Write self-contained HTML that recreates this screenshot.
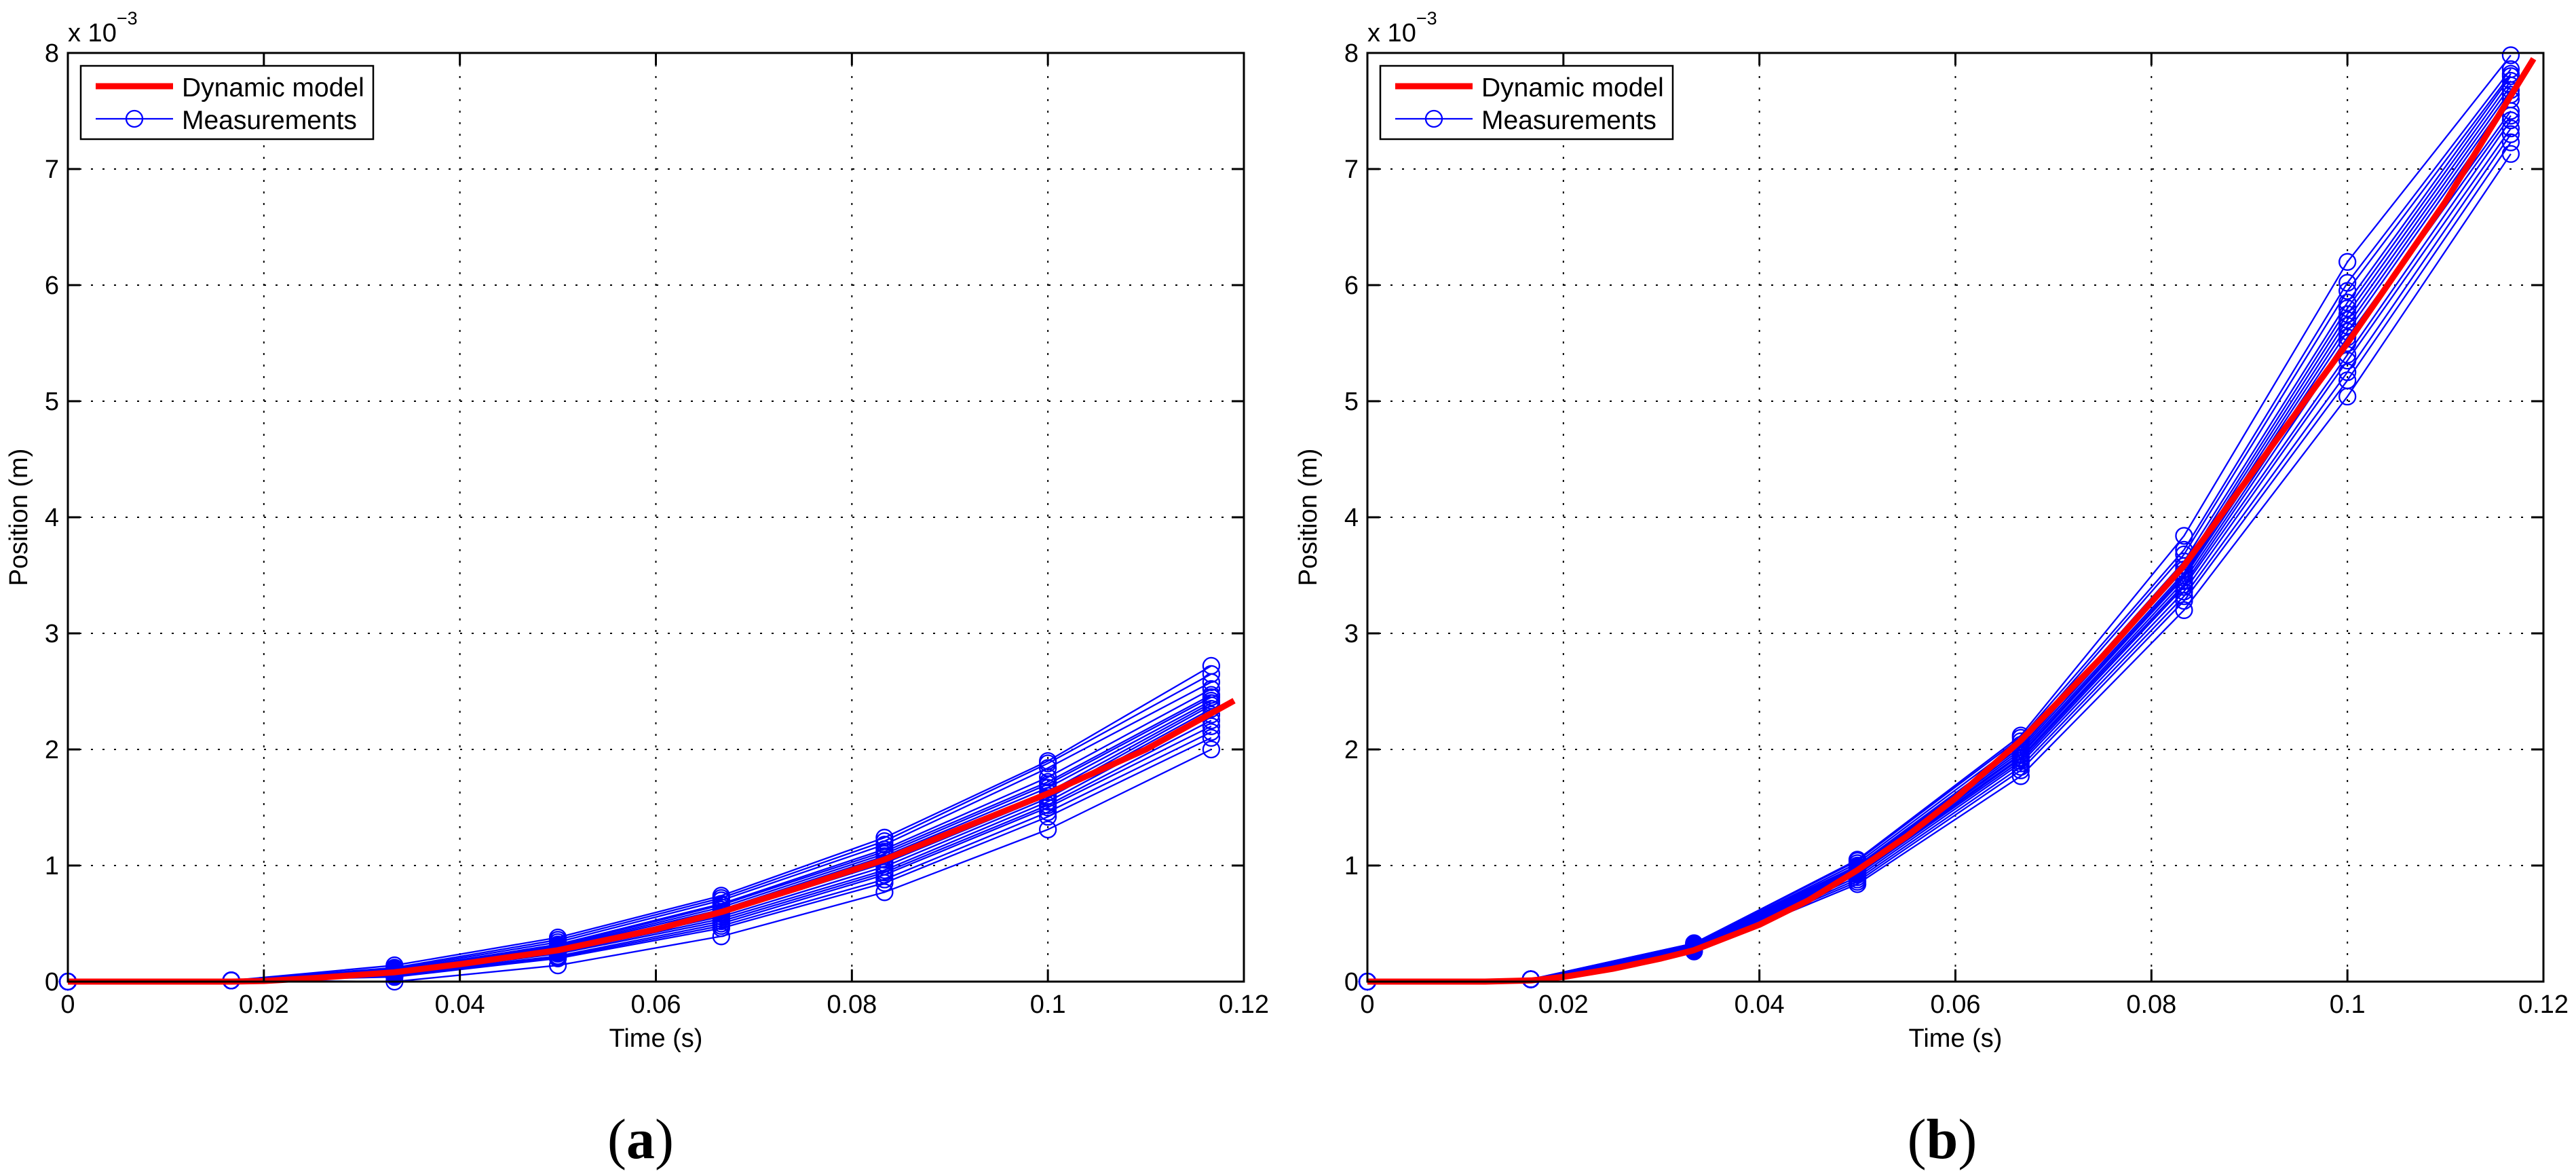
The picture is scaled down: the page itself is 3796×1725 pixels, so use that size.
<!DOCTYPE html>
<html><head><meta charset="utf-8">
<style>
html,body{margin:0;padding:0;background:#fff;}
svg{display:block;font-family:"Liberation Sans",sans-serif;}
</style></head>
<body>
<svg id="fig" width="3796" height="1725" viewBox="0 0 3796 1725" xmlns="http://www.w3.org/2000/svg"></svg>
<script>
// ---- shared data ----
const xTicks = [0, 0.02, 0.04, 0.06, 0.08, 0.1, 0.12];
const xTickLabels = ["0", "0.02", "0.04", "0.06", "0.08", "0.1", "0.12"];
const yTicks = [0, 1, 2, 3, 4, 5, 6, 7, 8];
const yTickLabels = ["0", "1", "2", "3", "4", "5", "6", "7", "8"];
const measTimes = [0, 0.01667, 0.03333, 0.05, 0.06667, 0.08333, 0.1, 0.11667];

// ---- panel (a) ----
const modelTimesA = [0, 0.0167, 0.02, 0.025, 0.0333, 0.04, 0.05, 0.06, 0.0667, 0.075, 0.0833, 0.09, 0.1, 0.11, 0.119];
const modelValsA  = [0, 0, 0.005, 0.03, 0.08, 0.15, 0.27, 0.45, 0.6, 0.82, 1.05, 1.28, 1.62, 2.0, 2.42];
const measA = [
  [0, 0.01, 0.14, 0.38, 0.74, 1.24, 1.90, 2.72],
  [0, 0.01, 0.12, 0.36, 0.72, 1.21, 1.88, 2.65],
  [0, 0.01, 0.11, 0.34, 0.70, 1.18, 1.84, 2.58],
  [0, 0.01, 0.10, 0.32, 0.67, 1.14, 1.76, 2.52],
  [0, 0.01, 0.10, 0.31, 0.66, 1.12, 1.72, 2.47],
  [0, 0.01, 0.09, 0.30, 0.64, 1.10, 1.70, 2.45],
  [0, 0.01, 0.09, 0.29, 0.62, 1.08, 1.67, 2.42],
  [0, 0.01, 0.08, 0.28, 0.60, 1.05, 1.63, 2.40],
  [0, 0.01, 0.08, 0.27, 0.58, 1.02, 1.60, 2.38],
  [0, 0.01, 0.07, 0.26, 0.56, 0.99, 1.58, 2.35],
  [0, 0.01, 0.07, 0.25, 0.54, 0.96, 1.55, 2.30],
  [0, 0.01, 0.06, 0.24, 0.52, 0.94, 1.52, 2.25],
  [0, 0.01, 0.06, 0.22, 0.50, 0.92, 1.50, 2.20],
  [0, 0.01, 0.05, 0.21, 0.48, 0.88, 1.46, 2.15],
  [0, 0.01, 0.04, 0.20, 0.46, 0.85, 1.42, 2.10],
  [0, 0.01, 0.00, 0.14, 0.39, 0.77, 1.31, 2.00]
];

// ---- panel (b) ----
const modelTimesB = [0, 0.012, 0.0167, 0.02, 0.025, 0.03, 0.0333, 0.04, 0.045, 0.05, 0.055, 0.06, 0.0667, 0.075, 0.0833, 0.09, 0.1, 0.11, 0.119];
const modelValsB  = [0, 0, 0.01, 0.04, 0.11, 0.2, 0.27, 0.49, 0.7, 0.96, 1.25, 1.58, 2.08, 2.8, 3.58, 4.35, 5.5, 6.72, 7.95];
const measB = [
  [0, 0.02, 0.33, 1.05, 2.12, 3.84, 6.20, 7.98],
  [0, 0.02, 0.33, 1.04, 2.10, 3.72, 6.02, 7.86],
  [0, 0.02, 0.32, 1.02, 2.07, 3.68, 5.95, 7.82],
  [0, 0.02, 0.32, 1.00, 2.04, 3.62, 5.85, 7.80],
  [0, 0.02, 0.31, 0.99, 2.02, 3.58, 5.80, 7.76],
  [0, 0.02, 0.31, 0.98, 2.00, 3.55, 5.75, 7.72],
  [0, 0.02, 0.30, 0.97, 1.98, 3.52, 5.70, 7.68],
  [0, 0.02, 0.30, 0.96, 1.96, 3.50, 5.65, 7.64],
  [0, 0.02, 0.30, 0.95, 1.95, 3.48, 5.60, 7.60],
  [0, 0.02, 0.29, 0.94, 1.93, 3.45, 5.55, 7.50],
  [0, 0.02, 0.29, 0.93, 1.92, 3.42, 5.50, 7.46],
  [0, 0.02, 0.28, 0.92, 1.90, 3.40, 5.40, 7.42],
  [0, 0.02, 0.28, 0.90, 1.88, 3.36, 5.35, 7.35],
  [0, 0.02, 0.27, 0.88, 1.85, 3.32, 5.25, 7.30],
  [0, 0.02, 0.27, 0.86, 1.82, 3.28, 5.18, 7.23],
  [0, 0.02, 0.26, 0.84, 1.77, 3.20, 5.04, 7.13]
];

const NS = "http://www.w3.org/2000/svg";
const svg = document.getElementById('fig');
function mk(tag, attrs, parent, text) {
  const e = document.createElementNS(NS, tag);
  for (const k in attrs) e.setAttribute(k, attrs[k]);
  if (text !== undefined) e.textContent = text;
  (parent || svg).appendChild(e);
  return e;
}

function drawPanel(id, L, R, T, B, modelT, modelV, meas, letter, letterX, yTitleX) {
  const g = mk('g', {}, svg);
  
  
  const sx = v => L + (v - 0) / 0.12 * (R - L);
  const sy = v => B - (v - 0) / 8 * (B - T);

  // grid
  const grid = mk('g', {stroke: '#000', 'stroke-width': 2, 'stroke-dasharray': '3,14'}, g);
  
  
  xTicks.forEach((t, i) => {
    if (i > 0 && i < xTicks.length - 1) mk('line', {x1: sx(t), x2: sx(t), y1: T, y2: B}, grid);
  });
  yTicks.forEach((t, i) => {
    if (i > 0 && i < yTicks.length - 1) mk('line', {x1: L, x2: R, y1: sy(t), y2: sy(t)}, grid);
  });

  // measurements
  const mg = mk('g', {fill: 'none', stroke: '#0000ff', 'stroke-width': 2.3}, g);
  
  
  meas.forEach((s, si) => {
    const pts = s.map((v, i) => sx(measTimes[i]) + ',' + sy(v)).join(' ');
    const pl = mk('polyline', {points: pts}, mg);
    
    
    s.forEach((v, i) => {
      const c = mk('circle', {cx: sx(measTimes[i]), cy: sy(v), r: 12}, mg);
      
      
    });
  });

  // model
  const mpts = modelT.map((t, i) => sx(t) + ',' + sy(modelV[i])).join(' ');
  const ml = mk('polyline', {points: mpts, fill: 'none', stroke: '#ff0000', 'stroke-width': 9, 'stroke-linejoin': 'round'}, g);
  
  

  // axes box
  const box = mk('rect', {x: L, y: T, width: R - L, height: B - T, fill: 'none', stroke: '#000', 'stroke-width': 3}, g);
  
  

  // ticks
  const tk = mk('g', {stroke: '#000', 'stroke-width': 3}, g);
  
  
  xTicks.forEach(t => {
    mk('line', {x1: sx(t), x2: sx(t), y1: B, y2: B - 18}, tk);
    mk('line', {x1: sx(t), x2: sx(t), y1: T, y2: T + 18}, tk);
  });
  yTicks.forEach(t => {
    mk('line', {x1: L, x2: L + 18, y1: sy(t), y2: sy(t)}, tk);
    mk('line', {x1: R, x2: R - 18, y1: sy(t), y2: sy(t)}, tk);
  });

  // tick labels
  xTicks.forEach((t, i) => {
    const e = mk('text', {x: sx(t), y: B + 46, 'font-size': 38, 'text-anchor': 'middle'}, g, xTickLabels[i]);
    
    
  });
  yTicks.forEach((t, i) => {
    const e = mk('text', {x: L - 13, y: sy(t) + 13, 'font-size': 38, 'text-anchor': 'end'}, g, yTickLabels[i]);
    
    
  });

  // exponent
  const ex = mk('text', {x: L, y: T - 17, 'font-size': 38}, g);
  
  
  mk('tspan', {}, ex, 'x 10');
  mk('tspan', {dy: -25, 'font-size': 27}, ex, '\u22123');

  // axis titles
  const xt = mk('text', {x: (L + R) / 2, y: B + 96, 'font-size': 38, 'text-anchor': 'middle'}, g, 'Time (s)');
  
  
  const yx = yTitleX, yc = (T + B) / 2;
  const yt = mk('text', {x: yx, y: yc, 'font-size': 38, 'text-anchor': 'middle', transform: 'rotate(-90 ' + yx + ' ' + yc + ')'}, g, 'Position (m)');
  
  

  // legend
  const lg = mk('g', {}, g);
  
  
  const lx = L + 19, ly = T + 19;
  mk('rect', {x: lx, y: ly, width: 431, height: 108, fill: '#fff', stroke: '#000', 'stroke-width': 2.5}, lg);
  const e1 = mk('g', {}, lg);
  
  
  mk('line', {x1: lx + 22, x2: lx + 136, y1: ly + 30, y2: ly + 30, stroke: '#ff0000', 'stroke-width': 9}, e1);
  mk('text', {x: lx + 149, y: ly + 45, 'font-size': 39}, e1, 'Dynamic model');
  const e2 = mk('g', {}, lg);
  
  
  mk('line', {x1: lx + 22, x2: lx + 136, y1: ly + 78, y2: ly + 78, stroke: '#0000ff', 'stroke-width': 2.3}, e2);
  mk('circle', {cx: lx + 79, cy: ly + 78, r: 12, fill: 'none', stroke: '#0000ff', 'stroke-width': 2.3}, e2);
  mk('text', {x: lx + 149, y: ly + 93, 'font-size': 39}, e2, 'Measurements');

  // panel letter
  const pl = mk('text', {x: letterX, y: 1706, 'font-size': 84, 'text-anchor': 'middle', 'font-family': '"Liberation Serif", serif'}, g);
  
  
  mk('tspan', {}, pl, '(');
  mk('tspan', {'font-weight': 'bold'}, pl, letter);
  mk('tspan', {}, pl, ')');
}

drawPanel('a', 100, 1833, 78, 1446, modelTimesA, modelValsA, measA, 'a', 944, 40);
drawPanel('b', 2015, 3748, 78, 1446, modelTimesB, modelValsB, measB, 'b', 2862, 1940);
</script>
</body></html>
